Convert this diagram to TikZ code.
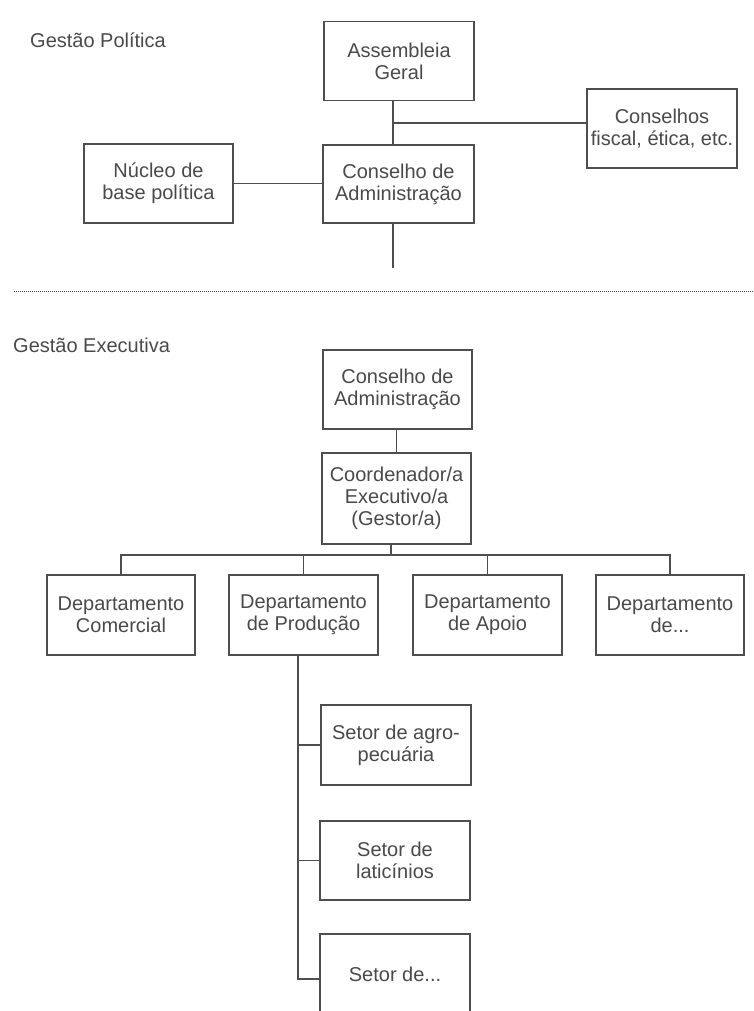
\documentclass[tikz,border=0pt]{standalone}
\usepackage{fontspec}
\setmainfont{Liberation Sans}
\definecolor{ink}{HTML}{4E4E4E}
\definecolor{txt}{HTML}{4A4A4A}
\begin{document}
\begin{tikzpicture}[x=1pt,y=-1pt,
  box/.style={draw=ink, line width=1.8pt, text=txt, minimum width=150pt, minimum height=79pt,
    align=center, font=\fontsize{20}{22}\selectfont, inner sep=0pt},
  conn/.style={draw=ink, line width=1.8pt},
  title/.style={text=txt, font=\fontsize{20}{22}\selectfont, anchor=west, inner sep=0pt}]
\fill[white] (0,0) rectangle (754,1011);
\useasboundingbox (0,0) rectangle (754,1011);
\clip (0,0) rectangle (754,1011);

% ---------- Gestão Política ----------
\node[title] (tpol) at (30,40) {Gestão Política};
\node[box] (asm) at (399,61) {Assembleia\\Geral};
\node[box] (cons) at (662,128.5) {Conselhos\\fiscal, ética, etc.};
\node[box, minimum width=149pt] (nuc) at (158.5,183.5) {Núcleo de\\base política};
\node[box, minimum width=151pt, minimum height=78pt] (cadm) at (398.5,184) {Conselho de\\Administração};
\coordinate (j1) at (393,123);
\coordinate (e1) at (393,268);
\draw[conn] (asm.south -| j1) -- (cadm.north -| j1);
\draw[conn] (j1) -- (cons.west |- j1);
\draw[conn] (nuc.east) -- (cadm.west |- nuc.east);
\draw[conn] (cadm.south -| e1) -- (e1);

% separator
\coordinate (s1) at (14,291);
\coordinate (s2) at (754,291);
\draw[ink, line width=1pt, dash pattern=on 1pt off 1pt] (s1) -- (s2);

% ---------- Gestão Executiva ----------
\node[title] (texe) at (13,345) {Gestão Executiva};
\node[box, minimum width=149pt] (cadm2) at (397.5,389.5) {Conselho de\\Administração};
\node[box, minimum width=149pt, minimum height=91pt] (coord) at (396.5,498.5) {Coordenador/a\\Executivo/a\\(Gestor/a)};
\draw[conn] (cadm2.south -| coord.north) -- (coord.north);

\node[box, minimum width=148pt, minimum height=80pt] (dcom) at (121,615) {Departamento\\Comercial};
\node[box, minimum width=149pt, minimum height=80pt] (dprod) at (303.5,615) {Departamento\\de Produção};
\node[box, minimum width=149pt, minimum height=80pt] (dapo) at (487.5,615) {Departamento\\de Apoio};
\node[box, minimum width=148pt, minimum height=80pt] (doth) at (670,615) {Departamento\\de...};

\coordinate (bar) at (391,555);
\draw[conn] (coord.south -| bar) -- (bar);
\draw[conn] (dcom.north) |- (bar) -| (doth.north);
\draw[conn] (dprod.north |- bar) -- (dprod.north);
\draw[conn] (dapo.north |- bar) -- (dapo.north);

\node[box, minimum width=150pt, minimum height=80pt] (sagr) at (396,745) {Setor de agro-\\pecuária};
\node[box, minimum width=150pt, minimum height=79pt] (slat) at (395,860.5) {Setor de\\laticínios};
\node[box, minimum width=150pt, minimum height=80pt] (soth) at (395,974) {Setor de...};

\coordinate (v) at (298,979);
\draw[conn] (dprod.south -| v) -- (v) -- (soth.west |- v);
\draw[conn] (sagr.west -| v) -- (sagr.west);
\draw[conn] (slat.west -| v) -- (slat.west);
\end{tikzpicture}
\end{document}
